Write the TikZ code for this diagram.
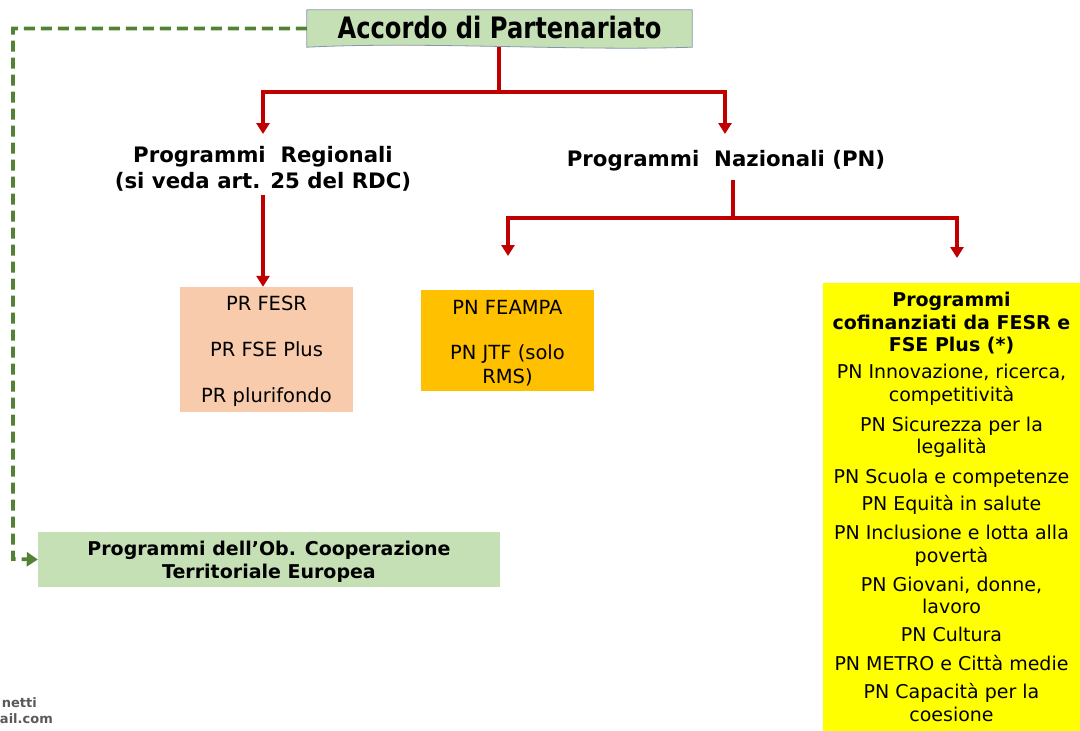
\documentclass[tikz,border=0pt]{standalone}
\usepackage{fontspec}
\setmainfont{DejaVu Sans}
\newfontfamily\titlefont[FakeStretch=0.82]{DejaVu Sans}
\usetikzlibrary{arrows.meta,calc}
\definecolor{redline}{HTML}{C00000}
\definecolor{greenline}{HTML}{548235}
\definecolor{accfill}{HTML}{C5E0B4}
\definecolor{accdraw}{HTML}{8497B0}
\definecolor{prfill}{HTML}{F8CBAD}
\definecolor{pnfill}{HTML}{FFC000}
\definecolor{yellowfill}{HTML}{FFFF00}
\definecolor{ctefill}{HTML}{C5E0B4}
\definecolor{markgray}{HTML}{595959}
\tikzset{
  redarrow/.style={draw=redline, line width=3.8pt, -{Triangle[length=11pt,width=13pt]}},
  redline/.style={draw=redline, line width=3.8pt},
  greenarrow/.style={draw=greenline, line width=3.8pt, dash pattern=on 11pt off 6pt, -{Triangle[length=11pt,width=14pt]}},
  heading/.style={font=\fontsize{21.3}{26}\selectfont\bfseries, align=center},
  progbox/.style={font=\fontsize{19.5}{24}\selectfont, align=center, inner sep=0pt},
  wmark/.style={anchor=east, inner sep=0pt, text=markgray, font=\fontsize{13}{16}\selectfont\bfseries},
}
\begin{document}
\begin{tikzpicture}[x=1pt,y=-1pt]
\useasboundingbox (0,0) rectangle (1080,731);
% Accordo box
\node[minimum width=385pt, minimum height=37pt, inner sep=0pt] (acc) at (499.5,28.5) {};
\fill[accfill] (acc.north west) -- (acc.north east) -- (acc.south east)
  .. controls ($(acc.south east)+(-120,4)$) and ($(acc.south west)+(120,-6)$) .. (acc.south west) -- cycle;
\draw[accdraw, line width=0.8pt] (acc.north west) -- (acc.north east) -- (acc.south east)
  .. controls ($(acc.south east)+(-120,4)$) and ($(acc.south west)+(120,-6)$) .. (acc.south west) -- cycle;
\node[font=\titlefont\fontsize{29.5}{32}\selectfont\bfseries] (acct) at (499.5,27.5) {Accordo di Partenariato};

% headings
\node[heading] (reg) at (263,168.5) {Programmi~ Regionali\\(si veda art. 25 del RDC)};
\node[heading] (naz) at (726,161) {Programmi~ Nazionali (PN)};

% boxes
\node[progbox, fill=prfill, minimum width=173pt, minimum height=125pt] (pr) at (266.5,349.5) {};
\node[progbox] (prt) at (266.5,351.5) {PR FESR\\[22pt]PR FSE Plus\\[22pt]PR plurifondo};
\node[progbox, fill=pnfill, minimum width=173pt, minimum height=101pt] (pn1) at (507.5,340.5) {};
\node[progbox] (pn1t) at (507.5,343.5) {PN FEAMPA\\[21pt]PN JTF (solo\\RMS)};
\node[fill=yellowfill, minimum width=257pt, minimum height=448pt, inner sep=0pt] (pn2) at (951.5,507) {};
\node[align=center, inner sep=0pt, anchor=north, font=\fontsize{19}{22.5}\selectfont] (pn2t) at (951.5,292)
  {{\bfseries Programmi}\\{\bfseries cofinanziati da FESR e}\\{\bfseries FSE Plus (*)}\\[4.5pt]
   PN Innovazione, ricerca,\\competitività\\[7.5pt]
   PN Sicurezza per la\\legalità\\[7.5pt]
   PN Scuola e competenze\\[4.5pt]
   PN Equità in salute\\[6.5pt]
   PN Inclusione e lotta alla\\povertà\\[6.5pt]
   PN Giovani, donne,\\lavoro\\[5.5pt]
   PN Cultura\\[6.5pt]
   PN METRO e Città medie\\[5.5pt]
   PN Capacità per la\\coesione};
\node[fill=ctefill, minimum width=462pt, minimum height=55pt, inner sep=0pt] (cte) at (269,559.5) {};
\node[font=\fontsize{19}{23}\selectfont\bfseries, align=center, inner sep=0pt] (ctet) at (269,562)
  {Programmi dell’Ob. Cooperazione\\Territoriale Europea};

% watermark
\node[wmark] (mark1) at (37,703) {netti};
\node[wmark] (mark2) at (53,719) {ail.com};

% connectors
\coordinate (j1) at (499,92);
\draw[redline] (acc.south -| j1) -- (j1);
\draw[redarrow] (j1) -- (263,92) -- (263,134);
\draw[redarrow] (j1) -- (725,92) -- (725,134);
\draw[redarrow] (reg.south) -- (reg.south |- pr.north);
\coordinate (j2) at (733,218);
\draw[redline] (733,180) -- (j2);
\draw[redarrow] (j2) -- (508,218) -- (508,256);
\draw[redarrow] (j2) -- (957,218) -- (957,258);
\draw[greenarrow] (acc.west) -- (13,28.5) -- (13,559) -- (cte.west);
\end{tikzpicture}
\end{document}
